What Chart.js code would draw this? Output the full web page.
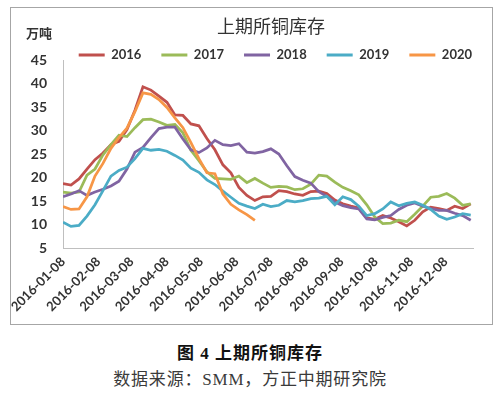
<!DOCTYPE html>
<html>
<head>
<meta charset="utf-8">
<script src="https://cdn.jsdelivr.net/npm/chart.js@4.4.1/dist/chart.umd.min.js"></script>
<style>
  body { margin: 0; background: #fff; }
  #wrap { position: relative; width: 500px; height: 395px; }
  #box { position: absolute; left: 10px; top: 7px; width: 481px; height: 316px; border: 1px solid #a6a6a6; }
  .cap { position: absolute; left: 0; width: 500px; text-align: center; line-height: 20px; font-size: 17px;
         font-family: "Liberation Serif", "Noto Sans CJK SC", serif; letter-spacing: 0.8px; }
  #cap1 { top: 344px; font-weight: bold; color: #111; letter-spacing: 1px; }
  #cap2 { top: 370px; color: #3a3a3a; }
</style>
</head>
<body>
<div id="wrap">
  <div id="box"><canvas id="copperChart" width="481" height="316"></canvas></div>
  <div class="cap" id="cap1">图 4 上期所铜库存</div>
  <div class="cap" id="cap2">数据来源：SMM，方正中期研究院</div>
</div>
<script>
// weekly SHFE copper stocks, first point 2016-01-08, one point per week
const startDate = '2016-01-08';
const stepDays = 7;

const chartTitle = '上期所铜库存';
const unitText = '万吨';
const years  = ['2016', '2017', '2018', '2019', '2020'];
const colors = ['#C0504D', '#9BBB59', '#8064A2', '#4BACC6', '#F79646'];

const s2016 = [18.7, 18.4, 19.7, 21.8, 23.8, 25.2, 27.0, 27.7, 30.2, 34.3,
               39.3, 38.6, 37.3, 36.0, 33.3, 33.2, 31.4, 31.0, 28.3, 25.9,
               22.7, 21.0, 17.9, 16.2, 15.1, 15.9, 16.0, 17.2, 17.0, 16.5,
               16.2, 17.0, 17.1, 16.6, 15.2, 14.4, 13.9, 13.5, 11.4, 11.1,
               11.9, 11.4, 10.6, 9.7, 10.9, 12.7, 13.7, 13.4, 13.0, 13.9,
               13.4, 14.4];
const s2017 = [16.9, 16.7, 16.9, 20.5, 21.8, 24.8, 27.0, 29.0, 28.7, 30.6,
               32.3, 32.4, 31.8, 31.1, 31.3, 29.5, 25.8, 23.6, 21.2, 19.8,
               19.7, 19.6, 20.3, 18.9, 19.8, 18.8, 17.9, 18.1, 18.0, 17.4,
               17.6, 18.6, 20.5, 20.3, 19.0, 17.9, 17.2, 16.3, 14.2, 11.6,
               10.2, 10.3, 10.9, 10.6, 12.2, 13.9, 15.8, 16.0, 16.6, 15.6,
               14.1, 14.4];
const s2018 = [15.9, 16.5, 17.2, 16.2, 16.9, 17.5, 18.2, 19.2, 21.8, 25.4,
               26.4, 28.5, 30.4, 30.7, 30.7, 28.2, 25.9, 25.3, 26.3, 27.9,
               27.0, 26.8, 27.2, 25.4, 25.2, 25.5, 26.1, 25.0, 22.5, 20.2,
               19.4, 18.8, 17.0, 16.0, 14.8, 14.0, 13.6, 13.3, 11.2, 11.0,
               11.5, 11.9, 13.2, 14.1, 14.6, 13.9, 13.4, 13.0, 13.0, 12.4,
               11.9, 10.9];
const s2019 = [10.5, 9.6, 9.8, 11.8, 14.2, 17.2, 20.3, 21.5, 22.2, 24.0,
               26.2, 25.8, 26.0, 25.6, 24.7, 23.7, 22.0, 21.1, 19.5, 18.5,
               17.1, 15.8, 14.5, 13.9, 13.4, 14.3, 13.8, 14.1, 15.1, 14.8,
               15.1, 15.5, 15.6, 16.0, 14.2, 15.9, 15.3, 13.9, 11.9, 12.3,
               13.3, 14.8, 14.0, 14.5, 14.8, 14.1, 13.2, 11.8, 11.1, 11.6,
               12.3, 12.0];
const s2020 = [13.8, 13.2, 13.3, 15.9, 20.3, 23.0, 26.2, 28.5, 30.5, 34.0,
               38.0, 37.7, 36.6, 34.9, 32.7, 30.6, 27.4, 24.0, 21.0, 20.8,
               16.5, 14.3, 13.1, 12.1, 10.9];
const series = [s2016, s2017, s2018, s2019, s2020];

const tickLabels = ['2016-01-08', '2016-02-08', '2016-03-08', '2016-04-08',
                    '2016-05-08', '2016-06-08', '2016-07-08', '2016-08-08',
                    '2016-09-08', '2016-10-08', '2016-11-08', '2016-12-08'];
const yTicks = { min: 5, max: 45, step: 5 };

const dayOf = d => (Date.parse(d) - Date.parse(startDate)) / 864e5;
const tickDays = tickLabels.map(dayOf);

// title and unit sit above the legend, drawn by hand
const headerText = {
  id: 'headerText',
  afterDraw(chart) {
    const { ctx, chartArea } = chart;
    ctx.save();
    ctx.fillStyle = '#333';
    ctx.textAlign = 'center';
    ctx.textBaseline = 'middle';
    ctx.font = '18px "Noto Sans CJK SC"';
    ctx.fillText(chartTitle, (chartArea.left + chartArea.right) / 2 + 3, chartArea.top - 34);
    ctx.font = 'bold 13px "Noto Sans CJK SC"';
    ctx.fillText(unitText, chartArea.left - 24, chartArea.top - 27);
    ctx.restore();
  }
};

const ctx = document.getElementById('copperChart').getContext('2d');
new Chart(ctx, {
  type: 'line',
  data: {
    datasets: years.map((y, i) => ({
      label: y,
      data: series[i].map((v, k) => ({ x: k * stepDays, y: v })),
      borderColor: colors[i],
      backgroundColor: colors[i],
      borderWidth: 2.75,
      pointRadius: 0,
      tension: 0,
      fill: false,
      order: years.length - i   // later years on top, like the original
    }))
  },
  options: {
    responsive: false,
    animation: false,
    layout: { padding: { top: 20.5, left: 0, right: 0, bottom: 0 } },
    scales: {
      x: {
        type: 'linear',
        min: 0,
        max: 359,
        grid: { display: false, drawTicks: false },
        border: { display: true, color: '#bfbfbf', width: 1 },
        afterBuildTicks: axis => { axis.ticks = tickDays.map(v => ({ value: v })); },
        afterFit: scale => { scale.height = 76; scale.paddingLeft = 0; scale.paddingRight = 19; },
        ticks: {
          autoSkip: false,
          minRotation: 45,
          maxRotation: 45,
          padding: 6,
          color: '#333',
          font: { family: 'Lato', weight: 'bold', size: 13 },
          callback: (v, i) => tickLabels[i]
        }
      },
      y: {
        min: yTicks.min,
        max: yTicks.max,
        grid: { display: false, drawTicks: false },
        border: { display: true, color: '#bfbfbf', width: 1 },
        afterFit: scale => { scale.width = 52; },
        ticks: {
          stepSize: yTicks.step,
          padding: 16,
          color: '#333',
          font: { family: 'Lato', weight: 'bold', size: 14 }
        }
      }
    },
    plugins: {
      title: { display: false },
      legend: {
        position: 'top',
        align: 'end',
        maxHeight: 31.5,
        labels: {
          boxWidth: 26,
          boxHeight: 3,
          padding: 20,
          color: '#333',
          font: { family: 'Lato', weight: 'bold', size: 13 },
          sort: (a, b) => a.datasetIndex - b.datasetIndex,
          generateLabels: chart => Chart.defaults.plugins.legend.labels
            .generateLabels(chart).map(l => ({ ...l, lineWidth: 0 }))
        }
      },
      tooltip: { enabled: false }
    }
  },
  plugins: [headerText]
});
</script>
</body>
</html>
